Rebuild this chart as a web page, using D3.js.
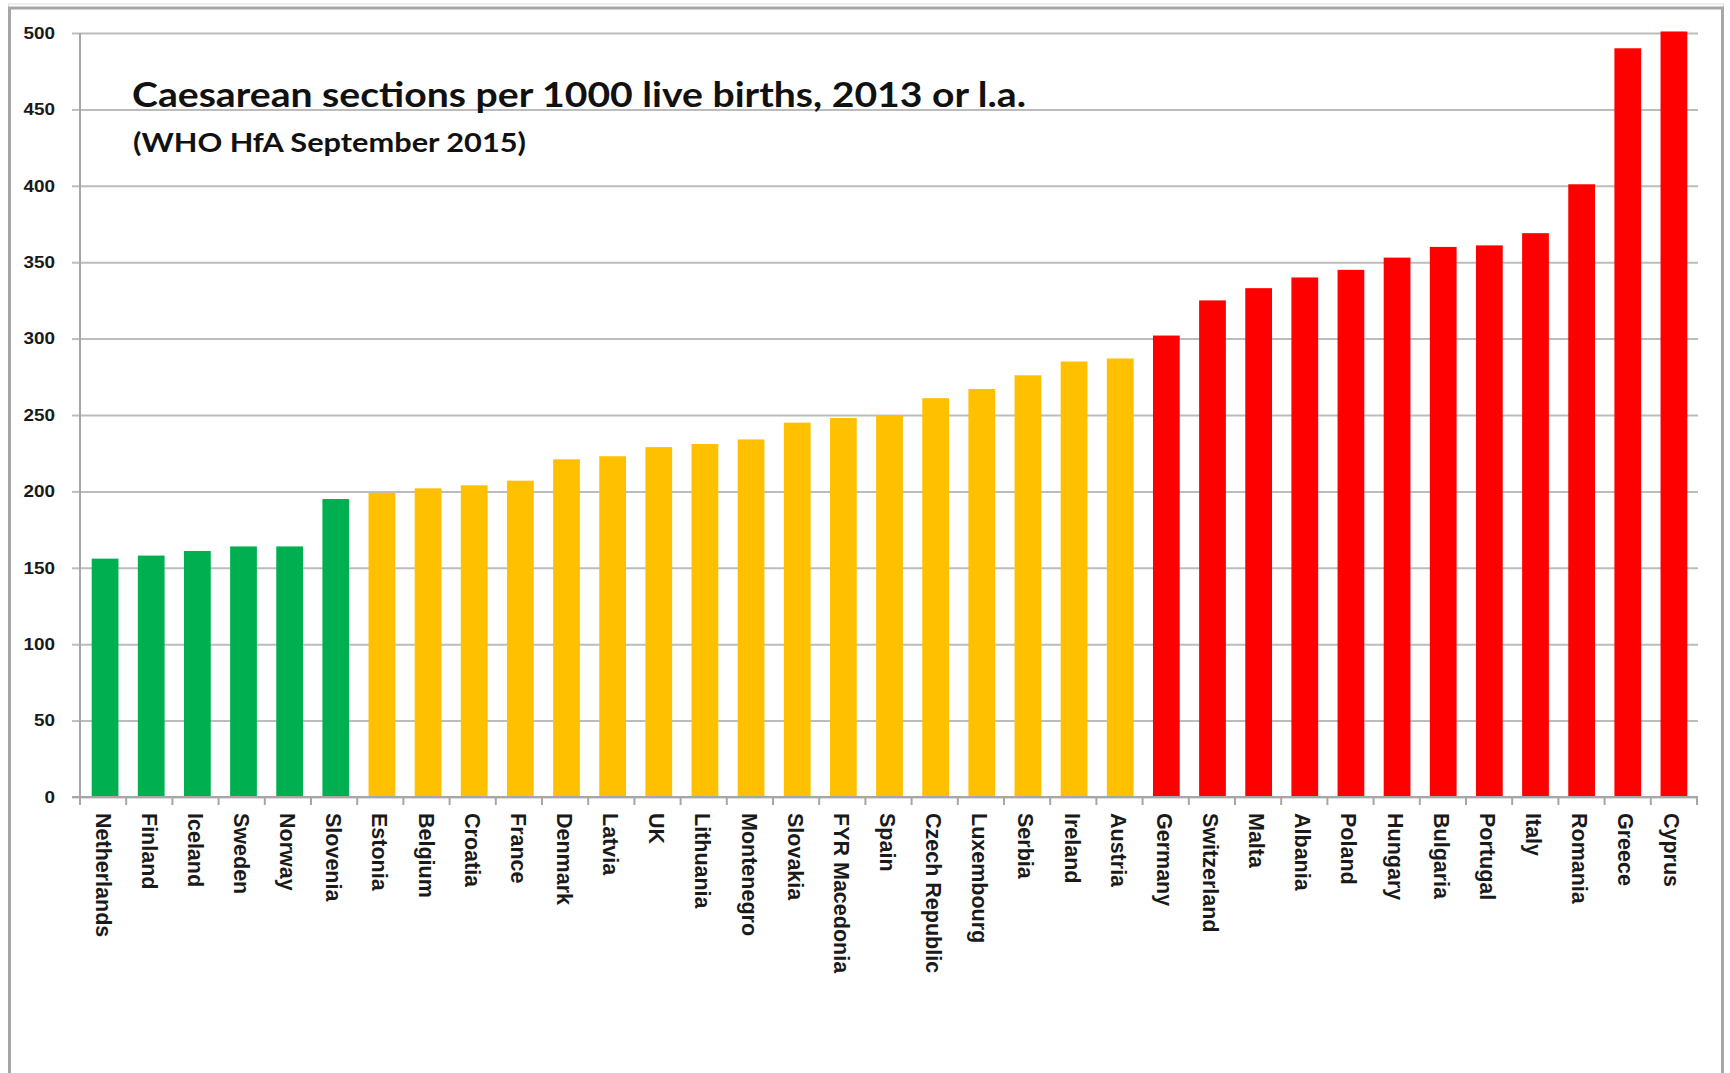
<!DOCTYPE html>
<html>
<head>
<meta charset="utf-8">
<script src="https://cdn.jsdelivr.net/npm/d3@7/dist/d3.min.js"></script>
<style>
  html, body { margin: 0; padding: 0; background: #ffffff; }
  svg { display: block; }
</style>
</head>
<body>
<svg id="chart" width="1730" height="1073"></svg>
<script>
const countries = ["Netherlands","Finland","Iceland","Sweden","Norway","Slovenia","Estonia","Belgium","Croatia","France","Denmark","Latvia","UK","Lithuania","Montenegro","Slovakia","FYR Macedonia","Spain","Czech Republic","Luxembourg","Serbia","Ireland","Austria","Germany","Switzerland","Malta","Albania","Poland","Hungary","Bulgaria","Portugal","Italy","Romania","Greece","Cyprus"];
const values = [156,158,161,164,164,195,199,202,204,207,221,223,229,231,234,245,248,250,261,267,276,285,287,302,325,333,340,345,353,360,361,369,401,490,501];
const groups = ["low","low","low","low","low","low","mid","mid","mid","mid","mid","mid","mid","mid","mid","mid","mid","mid","mid","mid","mid","mid","mid","high","high","high","high","high","high","high","high","high","high","high","high"];
const groupNames = ["low","mid","high"];
const groupColors = ["#00b050","#ffc000","#ff0000"];
const yTicks = [0,50,100,150,200,250,300,350,400,450,500];
const titleText = "Caesarean sections per 1000 live births, 2013 or l.a.";
const subtitleText = "(WHO HfA September 2015)";

const svg = d3.select("#chart");
const plot = {left: 80, right: 1697, top: 33, bottom: 797};

// outer frame
svg.append("rect").attr("x", 8.5).attr("y", 4).attr("width", 1715).attr("height", 1100)
  .attr("fill", "none").attr("stroke", "#dddddd").attr("stroke-width", 1);
svg.append("rect").attr("x", 9.5).attr("y", 8).attr("width", 1713).attr("height", 1100)
  .attr("fill", "none").attr("stroke", "#a6a6a6").attr("stroke-width", 3);

const x = d3.scaleBand().domain(countries).range([plot.left + 2, plot.right]).paddingInner(0.42).paddingOuter(0.21);
const y = d3.scaleLinear().domain([0, 500]).range([plot.bottom, plot.top]);
const color = d3.scaleOrdinal().domain(groupNames).range(groupColors);

// gridlines
const yAxis = d3.axisLeft(y).tickValues(yTicks).tickSize(-(plot.right + 1 - plot.left)).tickPadding(0).tickFormat("");
const gy = svg.append("g").attr("transform", `translate(${plot.left},0)`).call(yAxis);
gy.select(".domain").remove();
gy.selectAll(".tick line").attr("stroke", "#bcbcbc").attr("stroke-width", 2);
gy.selectAll(".tick").append("line").attr("x1", -8).attr("x2", 0)
  .attr("stroke", "#bcbcbc").attr("stroke-width", 2);

// y labels (slightly widened like the reference)
svg.append("g").selectAll("g").data(yTicks).join("g")
  .attr("transform", d => `translate(55,${y(d)}) scale(1.18,1)`)
  .append("text")
  .attr("dy", "0.36em")
  .attr("text-anchor", "end")
  .attr("font-family", "Liberation Sans, Arial, sans-serif").attr("font-weight", "bold")
  .attr("font-size", 16).attr("fill", "#1a1a1a")
  .text(d => d);

// bars
svg.append("g").selectAll("rect").data(countries).join("rect")
  .attr("x", d => x(d)).attr("width", x.bandwidth())
  .attr("y", (d, i) => y(values[i])).attr("height", (d, i) => y(0) - y(values[i]))
  .attr("fill", (d, i) => color(groups[i]));

// axis lines
svg.append("line").attr("x1", plot.left).attr("x2", plot.left).attr("y1", plot.top).attr("y2", plot.bottom)
  .attr("stroke", "#a6a6a6").attr("stroke-width", 2);
svg.append("line").attr("x1", plot.left - 8).attr("x2", plot.right + 1).attr("y1", plot.bottom).attr("y2", plot.bottom)
  .attr("stroke", "#a6a6a6").attr("stroke-width", 2);
const bounds = d3.range(countries.length + 1).map(i => plot.left + i * (plot.right - plot.left) / countries.length);
svg.append("g").selectAll("line").data(bounds).join("line")
  .attr("x1", d => d).attr("x2", d => d).attr("y1", plot.bottom).attr("y2", plot.bottom + 8)
  .attr("stroke", "#a6a6a6").attr("stroke-width", 2);

// x labels rotated
svg.append("g").selectAll("text").data(countries).join("text")
  .attr("transform", d => `translate(${x(d) + x.bandwidth() / 2 - 2},${plot.bottom + 16}) rotate(90)`)
  .attr("dy", "0.35em")
  .attr("text-anchor", "start")
  .attr("font-family", "Liberation Sans, Arial, sans-serif").attr("font-weight", "bold")
  .attr("font-size", 21.5).attr("fill", "#1a1a1a")
  .text(d => d);

// title
svg.append("text").attr("x", 132).attr("y", 107)
  .attr("font-family", "Lato, sans-serif").attr("font-weight", "bold")
  .attr("font-size", 35).attr("fill", "#111111")
  .attr("textLength", 894).attr("lengthAdjust", "spacingAndGlyphs")
  .text(titleText);
svg.append("text").attr("x", 133).attr("y", 152)
  .attr("font-family", "Lato, sans-serif").attr("font-weight", "bold")
  .attr("font-size", 26).attr("fill", "#111111")
  .attr("textLength", 393).attr("lengthAdjust", "spacingAndGlyphs")
  .text(subtitleText);
</script>
</body>
</html>
